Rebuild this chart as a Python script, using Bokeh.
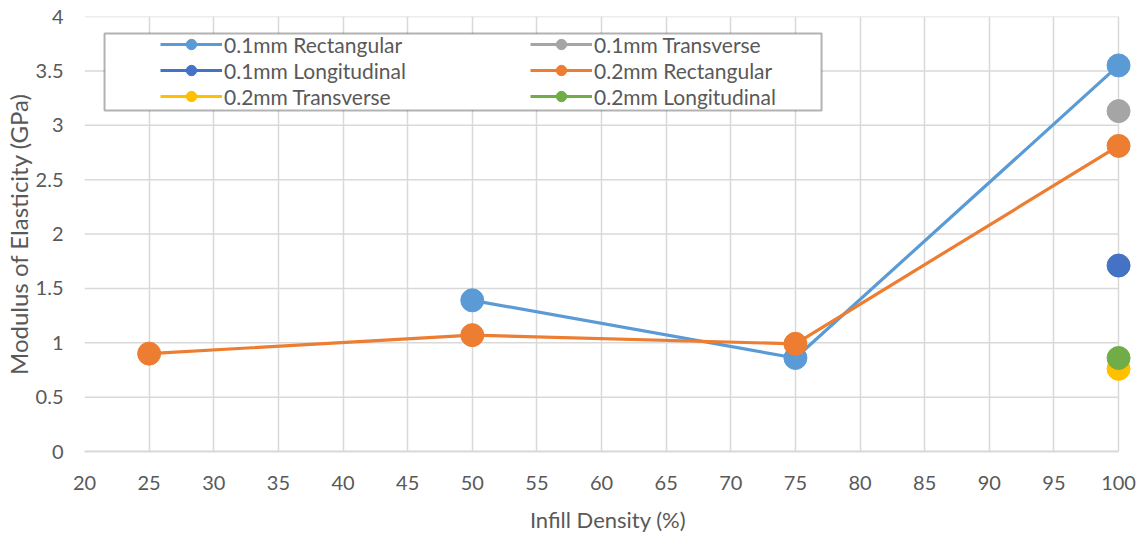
from bokeh.plotting import figure
from bokeh.models import (Legend, LegendItem, BoxAnnotation, FixedTicker,
                          NumeralTickFormatter, Range1d)
from bokeh.embed import file_html
from bokeh.resources import INLINE

# Modulus of elasticity (GPa) against infill density (%)
rect_01_x = [50, 75, 100]
rect_01_y = [1.39, 0.86, 3.55]
trans_01_x = [100]
trans_01_y = [3.13]
long_01_x = [100]
long_01_y = [1.71]
rect_02_x = [25, 50, 75, 100]
rect_02_y = [0.90, 1.07, 0.99, 2.81]
trans_02_x = [100]
trans_02_y = [0.76]
long_02_x = [100]
long_02_y = [0.86]

series = [
    ("0.1mm Rectangular", rect_01_x, rect_01_y, "#5B9BD5"),
    ("0.1mm Transverse", trans_01_x, trans_01_y, "#A5A5A5"),
    ("0.1mm Longitudinal", long_01_x, long_01_y, "#4472C4"),
    ("0.2mm Rectangular", rect_02_x, rect_02_y, "#ED7D31"),
    ("0.2mm Transverse", trans_02_x, trans_02_y, "#FFC000"),
    ("0.2mm Longitudinal", long_02_x, long_02_y, "#70AD47"),
]

x_ticks = list(range(20, 101, 5))
y_ticks = [0, 0.5, 1, 1.5, 2, 2.5, 3, 3.5, 4]

FONT = "Lato"
TEXT = "#595959"
GRID = "#D9D9D9"

# a little room past 100 so the last markers are not cut off
p = figure(width=1145, height=536, output_backend="svg", toolbar_location=None,
           x_range=Range1d(20, 101), y_range=Range1d(0, 4))
p.min_border_left = 84
p.min_border_right = 14
p.min_border_top = 16
p.min_border_bottom = 85
p.outline_line_color = None
p.background_fill_color = "white"
p.border_fill_color = "white"

for ax in (p.xaxis[0], p.yaxis[0]):
    ax.major_tick_line_color = None
    ax.minor_tick_line_color = None
    ax.major_tick_out = 0
    ax.major_tick_in = 0
    ax.minor_tick_out = 0
    ax.minor_tick_in = 0
    ax.major_label_text_font = FONT
    ax.major_label_text_font_size = "20px"
    ax.major_label_text_color = TEXT
    ax.axis_label_text_font = FONT
    ax.axis_label_text_font_style = "normal"
    ax.axis_label_text_color = TEXT

p.xaxis.axis_label_text_font_size = "22px"
p.yaxis.axis_label_text_font_size = "24px"
p.xaxis.ticker = FixedTicker(ticks=x_ticks)
p.yaxis.ticker = FixedTicker(ticks=y_ticks)
p.yaxis.formatter = NumeralTickFormatter(format="0.[0]")
p.xaxis.axis_label = "Infill Density (%)"
p.yaxis.axis_label = "Modulus of Elasticity (GPa)"
p.xaxis.axis_line_color = GRID
p.xaxis.axis_line_width = 2
p.xaxis.bounds = (20, 100)
p.yaxis.axis_line_color = None
p.xaxis.major_label_standoff = 24
p.yaxis.major_label_standoff = 21
p.xaxis.axis_label_standoff = 13
p.yaxis.axis_label_standoff = 0

# vertical gridlines span the full height; horizontal ones stop at 100
p.xgrid.ticker = FixedTicker(ticks=x_ticks)
p.xgrid.grid_line_color = GRID
p.xgrid.grid_line_width = 1.5
p.ygrid.grid_line_color = None
hgrid = p.segment(x0=x_ticks[0], x1=x_ticks[-1], y0=y_ticks, y1=y_ticks,
                  line_color=GRID, line_width=1.5, level="underlay")

items = []
for name, xs, ys, color in series:
    ln = p.line(xs, ys, line_color=color, line_width=3.2)
    sc = p.scatter(xs, ys, size=23, fill_color=color, line_color=color)
    items.append(LegendItem(label=name, renderers=[ln, sc]))

# legend frame
frame = BoxAnnotation(left=21.55, right=77.02, top=3.844, bottom=3.136,
                      fill_color="white", fill_alpha=1.0,
                      line_color="black", line_width=2)
p.add_layout(frame)

def make_legend(its, loc):
    lg = Legend(items=its, location=loc, orientation="vertical",
                padding=0, spacing=0, margin=0,
                glyph_width=62, glyph_height=26, label_height=26,
                label_standoff=2,
                label_text_font=FONT, label_text_font_size="21px",
                label_text_color=TEXT,
                background_fill_alpha=0, border_line_alpha=0)
    p.add_layout(lg, "center")
    return lg

make_legend([items[0], items[2], items[4]], (76, 342))
make_legend([items[1], items[3], items[5]], (446, 342))

open("out.html", "w").write(file_html(p, INLINE))
